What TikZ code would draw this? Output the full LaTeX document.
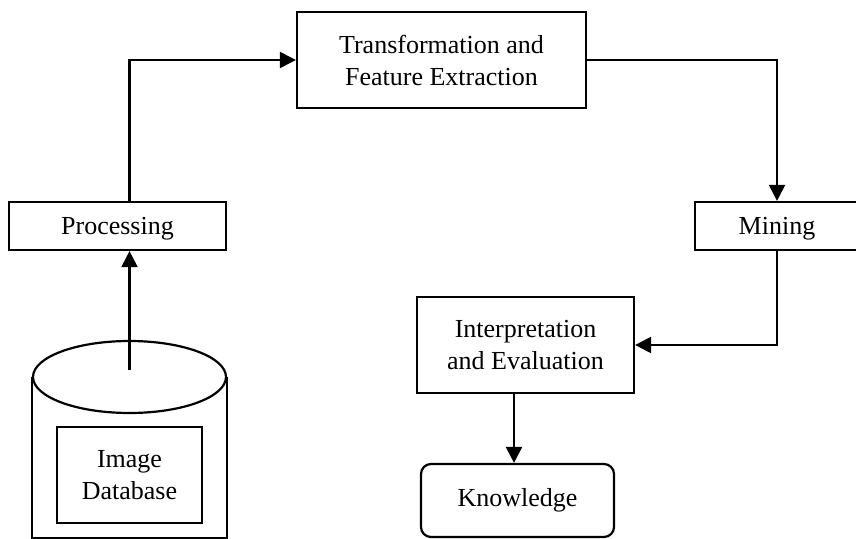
\documentclass[tikz,border=0pt]{standalone}
\usepackage{fontspec}
\setmainfont{Liberation Serif}
\usepackage{tikz}
\usetikzlibrary{shapes.geometric, arrows.meta, calc}
\tikzstyle{box} = [draw, line width=1.1pt, align=center, inner sep=2pt, font=\fontsize{13}{16}\selectfont]
\tikzstyle{arrow} = [line width=1.1pt, -{Triangle[length=8pt,width=8pt]}]

\begin{document}
\begin{tikzpicture}[x=0.5pt,y=-0.5pt]
    \useasboundingbox (0,0) rectangle (856,539);
   	\node[box, minimum width=144.5pt, minimum height=48pt] (trans) at (441.5,60) {Transformation and\\Feature Extraction};
   	\node[box, text depth=0pt, minimum width=108.5pt, minimum height=24pt] (proc) at (117.5,226) {Processing};
   	\node[box, text depth=0pt, minimum width=82pt, minimum height=24pt] (mine) at (777,226) {Mining};
   	\node[box, minimum width=108.5pt, minimum height=48pt] (interp) at (525.5,345) {Interpretation\\and Evaluation};
   	\node[box, rounded corners=5pt, minimum width=96.5pt, minimum height=36.5pt] (know) at (517.5,500.5) {Knowledge};
    % image database cylinder
   	\node[draw, ellipse, line width=1.1pt, minimum width=96.5pt, minimum height=36pt] (dbtop) at (129.5,377) {};
    \draw[line width=1.1pt] (dbtop.west) -- (dbtop.west |- 0,538) -- (dbtop.east |- 0,538) -- (dbtop.east);
   	\node[box, minimum width=72.5pt, minimum height=48pt] (db) at (129.5,475) {Image\\Database};
    \coordinate (dbin) at (129.5,370);
    \draw[arrow] (dbin) -- (dbin |- proc.south);
    \draw[arrow] (proc.north -| dbin) |- (trans.west);
    \draw[arrow] (trans.east) -| (mine.north);
    \draw[arrow] (mine.south) |- (interp.east);
    \draw[arrow] (interp.south -| 514,0) -- (know.north -| 514,0);
\end{tikzpicture}
\end{document}
